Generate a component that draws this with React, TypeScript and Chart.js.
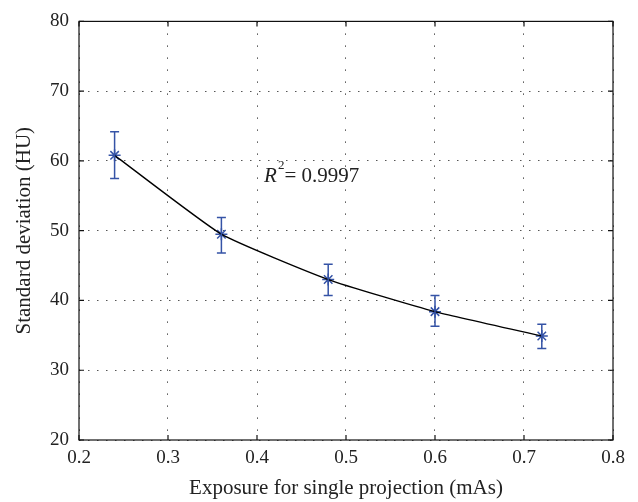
import React, { useEffect, useRef } from "react";
import { Chart, registerables } from "chart.js";

Chart.register(...registerables);

const exposure = [0.24, 0.36, 0.48, 0.6, 0.72];
const stdDev = [60.8, 49.5, 43.0, 38.4, 34.9];
const errLow = [57.5, 46.8, 40.7, 36.3, 33.1];
const errHigh = [64.2, 51.9, 45.2, 40.7, 36.6];
const xTicks = [0.2, 0.3, 0.4, 0.5, 0.6, 0.7, 0.8];
const yTicks = [20, 30, 40, 50, 60, 70, 80];
const annotation = { x: 0.408, y: 57.7, label: "= 0.9997" };

const BLUE = "#3553a6";
const SERIF = "'Liberation Serif', 'DejaVu Serif', serif";

const errorBarPlugin = {
  id: "errorBars",
  afterDatasetsDraw(chart: any) {
    const { ctx, scales } = chart;
    const xs = scales.x;
    const ys = scales.y;
    ctx.save();
    ctx.strokeStyle = BLUE;
    ctx.lineWidth = 1.5;
    for (let i = 0; i < exposure.length; i++) {
      const px = xs.getPixelForValue(exposure[i]);
      const pLo = ys.getPixelForValue(errLow[i]);
      const pHi = ys.getPixelForValue(errHigh[i]);
      const cap = 4.5;
      ctx.beginPath();
      ctx.moveTo(px, pLo);
      ctx.lineTo(px, pHi);
      ctx.moveTo(px - cap, pLo);
      ctx.lineTo(px + cap, pLo);
      ctx.moveTo(px - cap, pHi);
      ctx.lineTo(px + cap, pHi);
      ctx.stroke();
    }
    ctx.restore();
  },
};

const frameAndTextPlugin = {
  id: "frameAndText",
  afterDraw(chart: any) {
    const { ctx, chartArea, scales } = chart;
    const { left, right, top, bottom } = chartArea;
    ctx.save();
    ctx.strokeStyle = "#111";
    ctx.lineWidth = 1.2;
    ctx.strokeRect(left, top, right - left, bottom - top);
    const tl = 5;
    ctx.beginPath();
    scales.x.ticks.forEach((t: any) => {
      const px = scales.x.getPixelForValue(t.value);
      ctx.moveTo(px, bottom);
      ctx.lineTo(px, bottom - tl);
      ctx.moveTo(px, top);
      ctx.lineTo(px, top + tl);
    });
    scales.y.ticks.forEach((t: any) => {
      const py = scales.y.getPixelForValue(t.value);
      ctx.moveTo(left, py);
      ctx.lineTo(left + tl, py);
      ctx.moveTo(right, py);
      ctx.lineTo(right - tl, py);
    });
    ctx.stroke();

    // R^2 annotation
    const ax = scales.x.getPixelForValue(annotation.x);
    const ay = scales.y.getPixelForValue(annotation.y);
    ctx.fillStyle = "#222";
    ctx.textBaseline = "middle";
    ctx.textAlign = "left";
    ctx.font = `italic 21px ${SERIF}`;
    ctx.fillText("R", ax, ay);
    let w = ctx.measureText("R").width;
    ctx.font = `13px ${SERIF}`;
    ctx.fillText("2", ax + w + 1, ay - 11);
    w += ctx.measureText("2").width + 1;
    ctx.font = `21px ${SERIF}`;
    ctx.fillText(annotation.label, ax + w, ay);
    ctx.restore();
  },
};

export default function App() {
  const ref = useRef<HTMLCanvasElement | null>(null);
  useEffect(() => {
    if (!ref.current) return;
    const chart = new Chart(ref.current, {
      type: "scatter",
      data: {
        datasets: [
          {
            type: "line",
            data: exposure.map((x, i) => ({ x, y: stdDev[i] })),
            borderColor: "#000",
            borderWidth: 1.4,
            pointRadius: 0,
            tension: 0.15,
            fill: false,
          } as any,
          {
            data: exposure.map((x, i) => ({ x, y: stdDev[i] })),
            pointStyle: "star",
            pointRadius: 6,
            borderColor: BLUE,
            backgroundColor: BLUE,
            borderWidth: 1.5,
            showLine: false,
          },
        ],
      },
      options: {
        responsive: false,
        animation: false,
        layout: { padding: { top: 17, right: 25, bottom: 0, left: 0 } },
        plugins: { legend: { display: false }, tooltip: { enabled: false } },
        scales: {
          x: {
            type: "linear",
            min: 0.2,
            max: 0.8,
            afterBuildTicks(scale: any) {
              scale.ticks = xTicks.map((v) => ({ value: v }));
            },
            afterFit(scale: any) {
              scale.height = 62;
            },
            ticks: {
              callback: (v: any) => Number(v).toFixed(1),
              color: "#222",
              font: { family: SERIF, size: 19 },
              padding: 7,
              maxRotation: 0,
            },
            grid: { color: "#555", lineWidth: 1, drawTicks: false },
            border: { display: false, dash: [1.5, 10.5] },
            title: {
              display: true,
              text: "Exposure for single projection (mAs)",
              color: "#222",
              font: { family: SERIF, size: 21 },
              padding: { top: 0, bottom: 1 },
            },
          },
          y: {
            type: "linear",
            min: 20,
            max: 80,
            afterBuildTicks(scale: any) {
              scale.ticks = yTicks.map((v) => ({ value: v }));
            },
            afterFit(scale: any) {
              scale.width = 79;
            },
            ticks: {
              color: "#222",
              font: { family: SERIF, size: 19 },
              padding: 10,
            },
            grid: { color: "#555", lineWidth: 1, drawTicks: false },
            border: { display: false, dash: [1.5, 7.5] },
            title: {
              display: true,
              text: "Standard deviation (HU)",
              color: "#222",
              font: { family: SERIF, size: 21 },
              padding: { top: 12, bottom: 0 },
            },
          },
        },
      },
      plugins: [errorBarPlugin, frameAndTextPlugin],
    });
    return () => chart.destroy();
  }, []);
  return (
    <div style={{ position: "absolute", left: 0, top: 0, width: 638, height: 502, background: "#fff" }}>
      <canvas ref={ref} width={638} height={502} />
    </div>
  );
}
